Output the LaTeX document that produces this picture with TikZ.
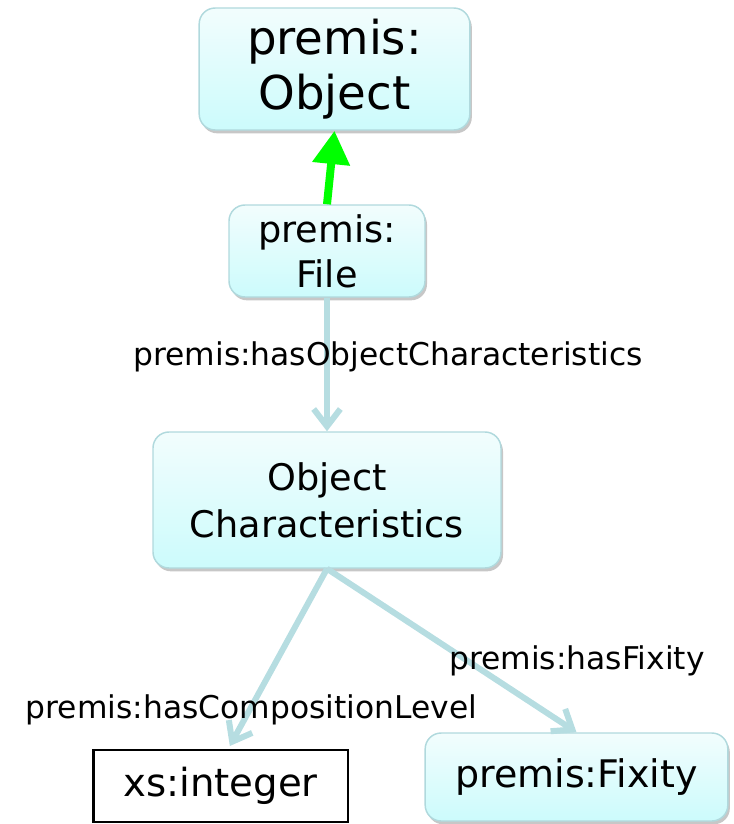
\documentclass[tikz,border=0pt]{standalone}
\usepackage{fontspec}
\setmainfont{DejaVu Sans}
\usepackage{tikz}
\usetikzlibrary{arrows.meta,shadows}
\definecolor{boxline}{HTML}{B0D9DD}
\definecolor{boxtop}{HTML}{F2FDFD}
\definecolor{boxbot}{HTML}{CCFBFC}
\definecolor{linkblue}{HTML}{B6DDE1}
\definecolor{subgreen}{HTML}{00FF00}
\tikzset{%
    classbox/.style={%
        rounded corners=12pt, draw=boxline, line width=1.1pt,
        top color=boxtop, bottom color=boxbot, align=center,
        inner sep=0pt,
        drop shadow={shadow xshift=1.5pt, shadow yshift=-2.5pt, fill=black!22, opacity=1}
    },
    litbox/.style={draw=black, line width=2pt, fill=white, inner sep=0pt},
    link/.style={line width=4.5pt, draw=linkblue, -{Straight Barb[width=20pt,length=13pt]}},
    linklabel/.style={font=\fontsize{23.5}{28}\selectfont}
}

\begin{document}
\begin{tikzpicture}[x=0.75pt,y=-0.75pt]
    \useasboundingbox (0,0) rectangle (733,824);
    \node[classbox, minimum width=203pt, minimum height=91.5pt,
        font=\fontsize{35}{41}\selectfont] (object) at (334.5,69) {premis:\\Object};
    \node[classbox, minimum width=147pt, minimum height=69pt,
        font=\fontsize{27.5}{33.5}\selectfont] (file) at (327,251) {premis:\\File};
    \node[classbox, minimum width=261pt, minimum height=102pt,
        font=\fontsize{27.5}{35}\selectfont] (objchar) at (327,500) {Object\\Characteristics};
    \node[litbox, minimum width=191pt, minimum height=54pt,
        font=\fontsize{29}{33}\selectfont] (int) at (220.5,786) {xs:integer};
    \node[classbox, minimum width=227pt, minimum height=66pt,
        font=\fontsize{28.5}{33}\selectfont] (fixity) at (576.5,777) {premis:Fixity};
    % subclass arrow
    \draw[line width=6pt, subgreen, -{Triangle[width=27pt,length=25pt]}] (file.north) -- (object.south);
    % properties
    \draw[link] (file.south) -- (objchar.north);
    \draw[link] (objchar.south) -- ([xshift=7pt,yshift=2pt]int.north);
    \draw[link] (objchar.south) -- (fixity.north);
    \node[linklabel] (lbchar) at (388,357) {premis:hasObjectCharacteristics};
    \node[linklabel] (lbfix) at (577,661) {premis:hasFixity};
    \node[linklabel] (lbcomp) at (251.5,710) {premis:hasCompositionLevel};
\end{tikzpicture}
\end{document}
